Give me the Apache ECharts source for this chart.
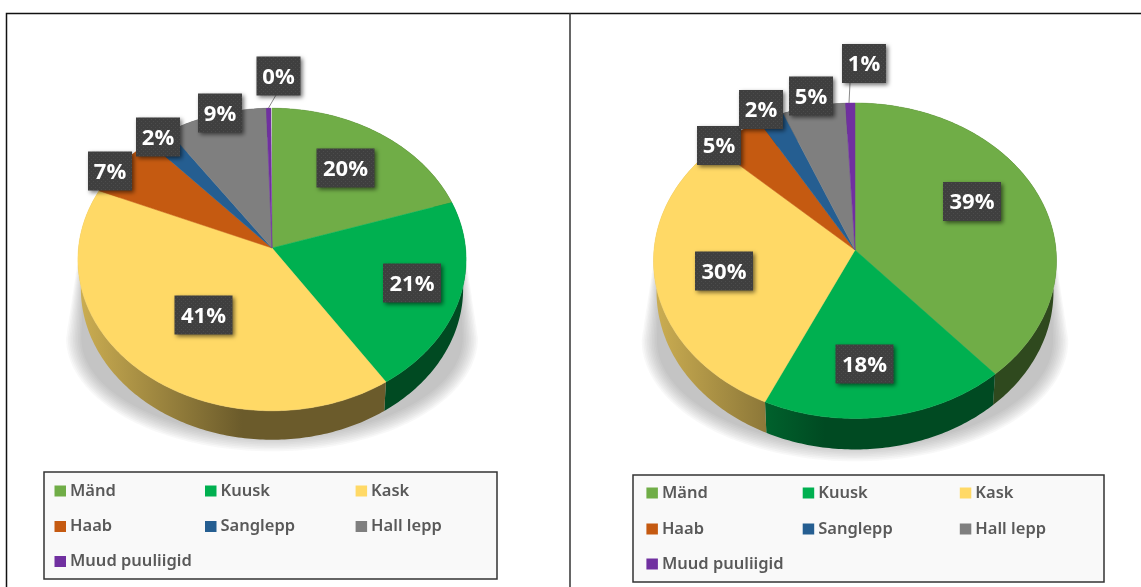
<!DOCTYPE html>
<html>
<head>
<meta charset="utf-8">
<style>html,body{margin:0;padding:0;background:#fff}#c{width:1141px;height:587px}</style>
<script src="https://cdn.jsdelivr.net/npm/echarts@6/dist/echarts.min.js"></script>
</head>
<body>
<div id="c"></div>
<script>
// ---- data ----
const species = ['Mänd', 'Kuusk', 'Kask', 'Haab', 'Sanglepp', 'Hall lepp', 'Muud puuliigid'];
const leftValues = [20.0, 20.7, 40.7, 6.9, 2.1, 9.1, 0.4];
const rightValues = [38.5, 18.4, 30.1, 4.6, 2.2, 5.4, 0.8];
const colors = ['#70ad47', '#00b050', '#ffd966', '#c55a11', '#255e91', '#7f7f7f', '#7030a0'];

// ---- layout ----
const pies = [
  { cx: 272, cy: 248, R: 193.5, Ry: 150.4, p: 0.0759, depth: 29, shadowBottom: 188 },
  { cx: 855, cy: 250, R: 201, Ry: 157, p: 0.0681, depth: 31, shadowBottom: 196 }
];
const labelCenters = [
  [[345.5,168],[412,283],[203.5,315],[110,171],[158,137],[220,113],[278.5,76]],
  [[972,201.5],[864.5,364],[724,271],[719,145.5],[761,109.5],[811,96],[864,63.5]]
];
const leaders = [[276,95,268.5,108],[850,83,849,103]];
const legendBoxes = [[44,472,453,107],[633,475,471,107]];
const legendCols = [[54.5,205,355.6],[646.4,802.7,959.8]];
const legendRows = [[491,526.5,561.5],[493,529,564]];
const tables = [leftValues, rightValues];

function rim(pie, theta) {
  const u = Math.sin(theta), v = -Math.cos(theta), s = 1 / (1 - pie.p * v);
  return [pie.cx + pie.R * u * s, pie.cy + pie.Ry * v * s];
}
function arc(pie, a0, a1) {
  const n = Math.max(2, Math.ceil(Math.abs(a1 - a0) / 0.015)), pts = [];
  for (let i = 0; i <= n; i++) pts.push(rim(pie, a0 + (a1 - a0) * i / n));
  return pts;
}
function shade(hex, f) {
  const n = parseInt(hex.slice(1), 16);
  return 'rgb(' + [(n >> 16) & 255, (n >> 8) & 255, n & 255].map(c => Math.round(c * f)).join(',') + ')';
}
const dot = document.createElement('canvas');
dot.width = dot.height = 4;
(function () {
  const g = dot.getContext('2d');
  g.fillStyle = '#3f3f3f'; g.fillRect(0, 0, 4, 4);
  g.fillStyle = '#4c4c4c'; g.fillRect(1, 1, 1, 1);
  g.fillRect(3, 3, 1, 1);
})();

function renderSlice(si) {
  return function (params, api) {
    const ci = params.dataIndex, pie = pies[ci], table = tables[ci];
    const value = api.value(0);
    let before = 0;
    for (let k = 0; k < si; k++) before += table[k];
    const a0 = before / 100 * Math.PI * 2, a1 = (before + value) / 100 * Math.PI * 2;
    const top = arc(pie, a0, a1);
    const lower = top.map(q => [pie.cx + (q[0] - pie.cx) * 0.985, q[1] + pie.depth]);
    const wall = top.concat(lower.slice().reverse());
    const xL = pie.cx - pie.R, xR = pie.cx - 30;
    const c = colors[si];
    const children = [
      { type: 'polygon', z2: 1, silent: true, shape: { points: wall },
        style: { fill: { type: 'linear', x: xL, y: 0, x2: xR, y2: 0, global: true,
          colorStops: [{ offset: 0, color: shade(c, 0.8) }, { offset: 1, color: shade(c, 0.42) }] } } },
      { type: 'polygon', z2: 2, silent: true, shape: { points: [[pie.cx, pie.cy]].concat(top) },
        style: { fill: c, stroke: c, lineWidth: 0.5 } }
    ];
    const lc = labelCenters[ci][si], text = Math.round(value) + '%';
    const w = text.length > 2 ? 58 : 44, h = 39;
    children.push(
      { type: 'rect', z2: 4, silent: true, shape: { x: lc[0] - w / 2, y: lc[1] - h / 2, width: w, height: h },
        style: { fill: { image: dot, repeat: 'repeat' }, shadowBlur: 4, shadowOffsetX: 2, shadowOffsetY: 2, shadowColor: 'rgba(0,0,0,0.55)' } },
      { type: 'text', z2: 5, silent: true, x: lc[0], y: lc[1] + 1.5,
        style: { text: text, fill: '#ffffff', font: 'bold 22px "Open Sans", "Liberation Sans", sans-serif', align: 'center', verticalAlign: 'middle' } }
    );
    return { type: 'group', children: children };
  };
}
function renderBase(params) {
  const pie = pies[params.dataIndex], l = leaders[params.dataIndex];
  const my = pie.cy + 90, children = [];
  for (let k = 0; k < 10; k++) {
    const g = k * 1.7;
    const rx = pie.R * 0.985 + g, ry = pie.shadowBottom - 90 + g, pts = [[pie.cx + pie.R * 0.97 + g * 0.3, pie.cy]];
    for (let d = 0; d <= 180; d += 2) {
      const t = d * Math.PI / 180;
      pts.push([pie.cx + rx * Math.cos(t), my + ry * Math.sin(t)]);
    }
    pts.push([pie.cx - pie.R * 0.97 - g * 0.3, pie.cy]);
    children.push({ type: 'polygon', z2: 0, silent: true, shape: { points: pts }, style: { fill: 'rgba(110,110,110,0.05)' } });
  }
  children.push({ type: 'line', z2: 3, silent: true, shape: { x1: l[0], y1: l[1], x2: l[2], y2: l[3] },
    style: { stroke: '#8a8a8a', lineWidth: 1 } });
  return { type: 'group', children: children };
}

const series = [{ type: 'custom', name: 'alus', coordinateSystem: 'none', silent: true, data: [[0], [1]], renderItem: renderBase }];
species.forEach((name, si) => series.push({
  type: 'custom', name: name, coordinateSystem: 'none', silent: true,
  itemStyle: { color: colors[si] },
  data: [[leftValues[si]], [rightValues[si]]],
  renderItem: renderSlice(si)
}));

const legends = [];
[0, 1].forEach(ci => species.forEach((name, si) => legends.push({
  data: [name], orient: 'horizontal', selectedMode: false, padding: 0,
  left: legendCols[ci][si % 3], top: legendRows[ci][Math.floor(si / 3)] - 10,
  icon: 'rect', itemWidth: 11.5, itemHeight: 11, itemStyle: { color: colors[si] },
  textStyle: { color: '#595959', fontSize: 16.5, lineHeight: 20, fontFamily: '"Noto Sans", sans-serif', fontWeight: 600, padding: [0, 0, 0, -1] }
})));

const graphics = [
  { type: 'polyline', silent: true, z: -1, shape: { points: [[6.5, 587], [6.5, 13.5], [1141, 13.5]] }, style: { stroke: '#111', lineWidth: 1.5, fill: null } },
  { type: 'line', silent: true, z: -1, shape: { x1: 570, y1: 13, x2: 570, y2: 587 }, style: { stroke: '#333', lineWidth: 1.5 } }
];
legendBoxes.forEach(b => graphics.push({ type: 'rect', silent: true, z: -1,
  shape: { x: b[0], y: b[1], width: b[2], height: b[3] }, style: { fill: '#f9f9f9', stroke: '#333', lineWidth: 1.5 } }));

const chart = echarts.init(document.getElementById('c'), null, { renderer: 'canvas' });
chart.setOption({
  animation: false,
  backgroundColor: '#ffffff',
  tooltip: { show: false },
  legend: legends,
  graphic: { elements: graphics },
  series: series
});
</script>
</body>
</html>
